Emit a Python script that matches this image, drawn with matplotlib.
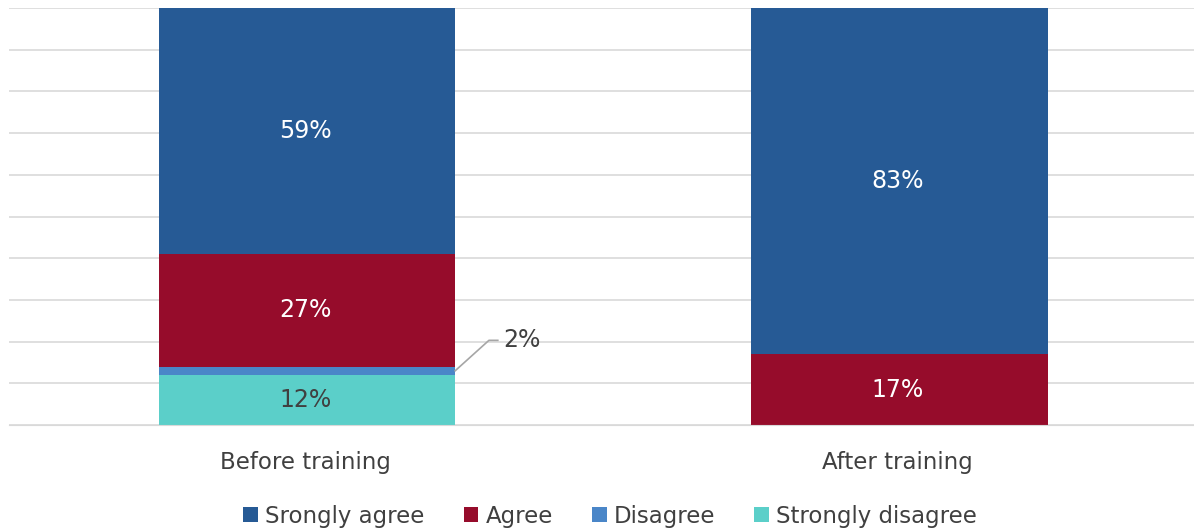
import matplotlib.pyplot as plt
import numpy as np

# Survey answers, percent of respondents
groups = ["Before training", "After training"]
answers = ["Srongly agree", "Agree", "Disagree", "Strongly disagree"]
strongly_agree = [59, 83]
agree = [27, 17]
disagree = [2, 0]
strongly_disagree = [12, 0]

colors = {"Srongly agree": "#265a95", "Agree": "#960c2b",
          "Disagree": "#4a86c8", "Strongly disagree": "#5bcfc9"}
text_col = "#404040"

fig = plt.figure(figsize=(11.94, 5.31), dpi=100)
ax = fig.add_axes([9/1194, 1 - 425/531, 1 - 9/1194, 417/531])

x = np.arange(len(groups))
w = 0.5

# stack from the bottom up
stack = [("Strongly disagree", strongly_disagree), ("Disagree", disagree),
         ("Agree", agree), ("Srongly agree", strongly_agree)]
bottom = np.zeros(len(groups))
bars = {}
for name, vals in stack:
    vals = np.array(vals, dtype=float)
    bars[name] = ax.bar(x + 0.003, vals, w, bottom=bottom, color=colors[name], zorder=2)
    for i, v in enumerate(vals):
        if v >= 5:
            col = text_col if name == "Strongly disagree" else "white"
            ax.text(x[i], bottom[i] + v / 2, f"{v:.0f}%", ha="center", va="center",
                    fontsize=17, color=col, zorder=3)
    bottom += vals

# small slice gets a callout
d_mid = strongly_disagree[0] + disagree[0] / 2
ax.plot([x[0] + w / 2 + 0.003, x[0] + 0.31, x[0] + 0.325], [d_mid, 20.3, 20.3],
        color="#a6a6a6", lw=1.2, zorder=3, clip_on=False)
ax.text(x[0] + 0.335, 20.3, f"{disagree[0]}%", ha="left", va="center",
        fontsize=17, color=text_col)

ax.set_xlim(-0.5, 1.5)
ax.set_ylim(0, 100)
ax.set_yticks(np.arange(0, 101, 10))
ax.yaxis.grid(True, color="#d9d9d9", lw=1.2, zorder=0)
ax.tick_params(axis="y", left=False, labelleft=False)
ax.tick_params(axis="x", bottom=False, labelsize=16.5, labelcolor=text_col, pad=15)
ax.set_xticks(x)
ax.set_xticklabels(groups)
for s in ["top", "right", "left"]:
    ax.spines[s].set_visible(False)
ax.spines["bottom"].set_color("#d9d9d9")

handles = [bars[a] for a in answers]
fig.legend(handles, answers, loc="center", bbox_to_anchor=(610/1194, 1 - 516/531),
           ncol=4, frameon=False, fontsize=16.5, labelcolor=text_col,
           handlelength=0.65, handleheight=0.65, handletextpad=0.3, columnspacing=1.7)

fig.savefig("out.png", dpi=100, facecolor="white")
